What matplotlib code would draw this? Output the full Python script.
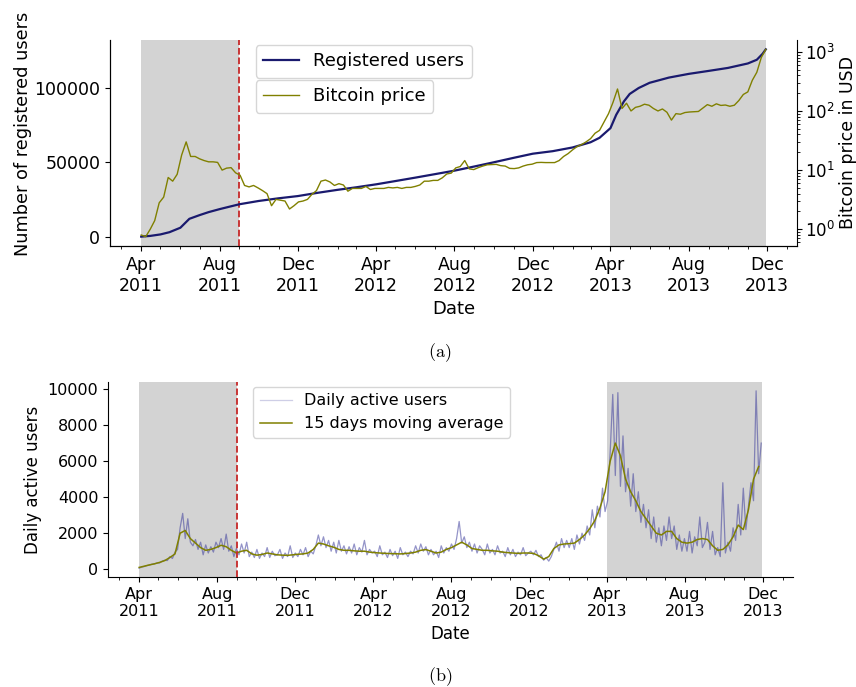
import matplotlib
matplotlib.use('Agg')
import matplotlib.pyplot as plt
import matplotlib.dates as mdates
import pandas as pd

plt.rcParams['mathtext.fontset'] = 'cm'

# registered users (cumulative)
reg_dates = ['2011-04-01', '2011-04-15', '2011-05-01', '2011-05-15', '2011-06-01', '2011-06-15',
             '2011-07-01', '2011-07-15', '2011-08-01', '2011-08-15', '2011-09-01', '2011-10-01',
             '2011-11-01', '2011-12-01', '2012-01-01', '2012-02-01', '2012-03-01', '2012-04-01',
             '2012-05-01', '2012-06-01', '2012-07-01', '2012-08-01', '2012-09-01', '2012-10-01',
             '2012-11-01', '2012-12-01', '2013-01-01', '2013-02-01', '2013-03-01', '2013-03-15',
             '2013-04-01', '2013-04-10', '2013-04-22', '2013-05-01', '2013-05-15', '2013-06-01',
             '2013-07-01', '2013-08-01', '2013-09-01', '2013-10-01', '2013-11-01', '2013-11-15',
             '2013-11-24', '2013-11-29']
reg_users = [0, 500, 1500, 3000, 6000, 12000,
             14500, 16500, 18500, 20000, 21800, 24000,
             25800, 27300, 29500, 31500, 33200, 35200,
             37400, 39700, 42000, 44400, 47200, 50000,
             53000, 55800, 57500, 60000, 63500, 66500,
             73000, 82000, 91000, 96000, 100000, 103500,
             107000, 109500, 111500, 113500, 116500, 119000,
             123000, 126000]

# bitcoin price, weekly from 2011-04-01
btc_price = [0.8, 0.75, 1.0, 1.4, 2.8,
             3.5, 7.5, 6.5, 8.5,
             18, 30, 17, 17,
             15.5, 14.5, 13.8, 13.8, 13.5,
             10, 10.8, 11, 9,
             8.2, 5.5, 5.2, 5.5, 5,
             4.5, 4.0, 2.5, 3.2,
             3.1, 3.0, 2.2, 2.5,
             2.9, 3.0, 3.2, 3.9, 4.5,
             6.5, 6.8, 6.3, 5.5,
             5.9, 5.6, 4.4, 4.9,
             4.9, 4.9, 5.3, 4.7, 4.9,
             4.9, 4.9, 5.1, 5.0,
             5.1, 4.9, 5.1, 5.1,
             5.3, 5.6, 6.5, 6.5, 6.7,
             6.7, 7.4, 8.6, 8.9,
             10.9, 11.5, 14.5, 10.5, 10.2,
             11.0, 11.7, 12.3, 12.4,
             12.5, 11.9, 11.7, 10.7,
             10.6, 10.9, 11.7, 12.3, 12.6,
             13.4, 13.5, 13.4, 13.4,
             13.4, 14.5, 17, 19,
             22, 25, 27, 30,
             34, 42, 47, 65, 90,
             140, 235, 110, 135,
             100, 115, 120, 130, 125,
             110, 100, 108, 95,
             70, 90, 88, 94,
             96, 97, 98, 112, 128,
             120, 132, 124, 126,
             120, 125, 150, 190,
             210, 330, 450, 800, 1100]

# daily active users, every 4 days from 2011-04-01
daily_active = [60, 120, 150, 200, 230, 280, 300, 350,
                350, 450, 500, 480, 700, 600, 950, 1100,
                2300, 3100, 1700, 2800, 1500, 1300, 1650,
                1100, 1500, 800, 1350, 900, 1250, 950, 1500,
                1200, 1700, 1100, 1950, 1000, 1300, 700, 1150,
                800, 1400, 900, 1500, 700, 950, 650,
                1100, 600, 900, 700, 1200, 650, 1000, 750,
                800, 1100, 600, 900, 700, 1300, 650,
                900, 700, 1100, 800, 1200, 700, 1000, 850,
                1300, 1900, 1300, 1800, 1200, 1600, 1000, 1500,
                900, 1600, 1000, 1300, 850, 1250, 900,
                1400, 800, 1200, 950, 1600, 800, 1100, 900,
                1000, 700, 1300, 800, 950, 650, 1100,
                750, 1000, 600, 1200, 800, 950, 700, 1000,
                850, 1300, 900, 1400, 1000, 1250, 800, 1100,
                800, 1000, 650, 1300, 900, 1200, 1000,
                1400, 1100, 1700, 2650, 1450, 1800, 1200, 1500,
                1000, 1400, 900, 1300, 1100, 800, 1400, 900,
                1100, 800, 1300, 900, 1000, 700, 1200,
                800, 1100, 700, 950, 800, 1200, 750, 900,
                1000, 800, 1050, 700, 800, 500, 650, 450,
                700, 1100, 1500, 1000, 1700, 1200, 1600,
                1200, 1700, 1100, 1900, 1400, 2000, 1600,
                2400, 1900, 3300, 2300, 3500, 2900, 4500, 3200,
                3800, 6500, 9700, 5200, 9800, 4600, 7400, 4300,
                5600, 3500, 5300, 3200, 4300, 2600, 3600, 2300,
                3300, 1700, 2900, 1500, 2300, 1300, 2400,
                1600, 2900, 1700, 2400, 1100, 1900, 1000, 1700,
                1000, 2100, 900, 1800, 1300, 2900, 1200,
                1500, 2600, 1100, 2100, 800, 1200, 700, 4800,
                900, 1500, 1000, 2300, 1600, 3600, 1900, 4500,
                2200, 3500, 4800, 3800, 9900, 5300, 7000]

# 15 days moving average, every 8 days from 2011-04-01
moving_avg = [100, 170, 240, 300,
              380, 480, 650, 850,
              2000, 2150, 1700, 1450,
              1200, 1050, 1100, 1200,
              1330, 1250, 1050, 900,
              1000, 1050, 850,
              780, 820, 900, 850,
              800, 780, 770, 800,
              830, 850, 900, 1100,
              1450, 1400, 1300, 1220,
              1100, 1050, 1050,
              1020, 1000, 1000, 950,
              920, 900, 880, 870,
              860, 850, 870, 900,
              950, 1050, 1090,
              1000, 900, 950, 1100,
              1200, 1350, 1500, 1350,
              1150, 1100, 1050, 1050,
              1020, 1000, 950, 920,
              900, 880, 900,
              900, 880, 750, 560,
              700, 1150, 1350, 1400,
              1420, 1450, 1650, 1900,
              2250, 2700, 3400, 4300,
              6000, 7000, 6300, 5000,
              4300, 3800, 3200,
              2800, 2400, 2000, 1900,
              2100, 2100, 1700, 1500,
              1450, 1500, 1650, 1700,
              1650, 1300, 1050,
              1100, 1350, 1800, 2450,
              2200, 3300, 5000, 5700]

shade_periods = [('2011-04-01', '2011-09-01'), ('2013-04-01', '2013-11-29')]
event_date = '2011-09-01'

reg_x = pd.to_datetime(reg_dates)
btc_x = pd.date_range('2011-04-01', periods=len(btc_price), freq='7D')
dau_x = pd.date_range('2011-04-01', periods=len(daily_active), freq='4D')
ma_x = pd.date_range('2011-04-01', periods=len(moving_avg), freq='8D')

fig = plt.figure(figsize=(8.56, 6.87), dpi=100)
ax = fig.add_axes([0.1285, 0.6419, 0.8026, 0.2999])
ax2 = ax.twinx()
bx = fig.add_axes([0.1262, 0.1601, 0.8002, 0.2839])


def style_dates(a, fs):
    a.xaxis.set_major_locator(mdates.MonthLocator(bymonth=[4, 8, 12]))
    a.xaxis.set_minor_locator(mdates.MonthLocator())
    a.xaxis.set_major_formatter(mdates.DateFormatter('%b\n%Y'))
    a.tick_params(axis='both', labelsize=fs)
    for s in a.xaxis.get_ticklabels():
        s.set_multialignment('center')


for a in (ax, bx):
    for start, end in shade_periods:
        a.axvspan(pd.Timestamp(start), pd.Timestamp(end), color='#d3d3d3', lw=0, zorder=0)
    a.axvline(pd.Timestamp(event_date), color='#c62828', ls='--', lw=1.3, zorder=3)

ax.plot(reg_x, reg_users, color='#1a1a6e', lw=1.6, label='Registered users', zorder=4)
ax2.plot(btc_x, btc_price, color='#808000', lw=1.0, label='Bitcoin price')
ax2.set_yscale('log')
ax.set_ylabel('Number of registered users', fontsize=12.8)
ax.yaxis.set_label_coords(-0.114, 0.544)
ax2.set_ylabel('Bitcoin price in USD', fontsize=12.5, labelpad=3)
ax.set_xlabel('Date', fontsize=13)
ax.set_yticks([0, 50000, 100000])
style_dates(ax, 12.5)
ax2.tick_params(labelsize=12, pad=2)
ax.spines['top'].set_visible(False)
ax.spines['right'].set_visible(False)
ax2.spines['top'].set_visible(False)
ax.legend(loc='upper left', bbox_to_anchor=(0.212, 0.975), fontsize=13, borderaxespad=0)
ax2.legend(loc='upper left', bbox_to_anchor=(0.212, 0.805), fontsize=13, borderaxespad=0)

bx.plot(dau_x, daily_active, color='#3c3c9c', alpha=0.55, lw=0.9, label='Daily active users')
bx.plot(ma_x, moving_avg, color='#808000', lw=1.1, label='15 days moving average')
bx.set_ylabel('Daily active users', fontsize=12)
bx.set_xlabel('Date', fontsize=12)
bx.set_yticks([0, 2000, 4000, 6000, 8000, 10000])
style_dates(bx, 11.5)
bx.spines['top'].set_visible(False)
bx.spines['right'].set_visible(False)
leg = bx.legend(loc='upper left', bbox_to_anchor=(0.212, 0.975), fontsize=11.5, borderaxespad=0)
leg.get_lines()[0].set_alpha(0.25)

fig.text(0.514, 0.487, r'$\mathrm{(a)}$', ha='center', va='center', fontsize=13)
fig.text(0.514, 0.015, r'$\mathrm{(b)}$', ha='center', va='center', fontsize=13)

fig.savefig('out.png', dpi=100)
